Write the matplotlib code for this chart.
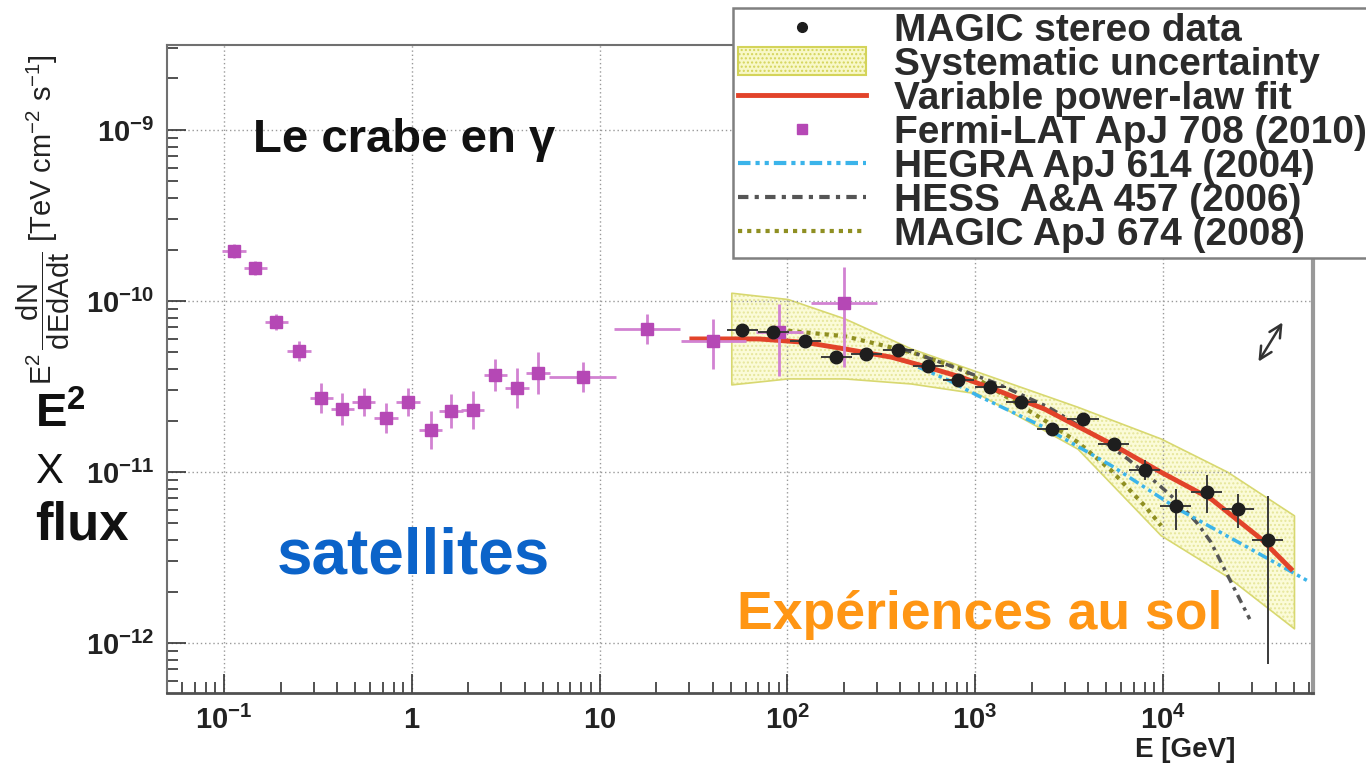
import numpy as np
import matplotlib
matplotlib.use("Agg")
import matplotlib.pyplot as plt
from matplotlib.patches import Patch
from matplotlib.lines import Line2D
from matplotlib.ticker import FixedLocator, FixedFormatter, NullFormatter

plt.rcParams["font.family"] = ["Liberation Sans", "DejaVu Sans"]
plt.rcParams["mathtext.fontset"] = "custom"
plt.rcParams["mathtext.rm"] = "Liberation Sans"
plt.rcParams["mathtext.bf"] = "Liberation Sans:bold"
plt.rcParams["mathtext.it"] = "Liberation Sans:italic"

# Fermi-LAT points (E in GeV, E^2 flux in TeV cm-2 s-1), errors in dex
fermi_e = [0.113, 0.147, 0.190, 0.251, 0.330, 0.426, 0.555, 0.730, 0.955, 1.26,
           1.62, 2.11, 2.79, 3.63, 4.70, 8.12, 17.9, 40.4, 90.6, 200]
fermi_f = [1.95e-10, 1.55e-10, 7.57e-11, 5.12e-11, 2.70e-11, 2.33e-11, 2.57e-11,
           2.07e-11, 2.57e-11, 1.75e-11, 2.27e-11, 2.31e-11, 3.69e-11, 3.11e-11,
           3.79e-11, 3.58e-11, 6.86e-11, 5.86e-11, 6.59e-11, 9.73e-11]
fermi_up = [0.041, 0.041, 0.047, 0.058, 0.088, 0.094, 0.082, 0.088, 0.082, 0.111,
            0.100, 0.111, 0.094, 0.117, 0.123, 0.088, 0.088, 0.127, 0.164, 0.210]
fermi_dn = [0.041, 0.041, 0.047, 0.058, 0.088, 0.094, 0.082, 0.088, 0.082, 0.111,
            0.100, 0.111, 0.094, 0.117, 0.123, 0.088, 0.088, 0.166, 0.256, 0.376]
fermi_bin = [0.062] * 15 + [0.180, 0.175, 0.173, 0.124, 0.175]

# MAGIC stereo points
magic_e = [57.6, 84.3, 124.6, 182, 263, 389, 562, 812, 1202, 1758, 2570, 3750,
           5480, 8020, 11700, 17100, 25100, 36200]
magic_f = [6.80e-11, 6.56e-11, 5.86e-11, 4.72e-11, 4.88e-11, 5.15e-11, 4.15e-11,
           3.46e-11, 3.14e-11, 2.57e-11, 1.78e-11, 2.04e-11, 1.46e-11, 1.03e-11,
           6.29e-12, 7.67e-12, 6.08e-12, 4.02e-12]
magic_up = [0.023] * 10 + [0.029, 0.029, 0.035, 0.058, 0.099, 0.099, 0.088, 0.257]
magic_dn = [0.023] * 10 + [0.029, 0.029, 0.035, 0.058, 0.135, 0.123, 0.111, 0.725]
magic_bin = 0.083

# systematic uncertainty band
band_e = [50.6, 101, 203, 458, 1037, 3530, 9790, 22180, 50200]
band_hi = [1.11e-10, 1.02e-10, 7.85e-11, 5.24e-11, 3.83e-11, 2.39e-11, 1.56e-11,
           9.96e-12, 5.54e-12]
band_lo = [3.23e-11, 3.50e-11, 3.50e-11, 3.27e-11, 2.86e-11, 1.36e-11, 4.24e-12,
           2.43e-12, 1.21e-12]

# variable power-law fit
fit_e = [31.0, 70.1, 124, 203, 359, 562, 846, 1324, 2348, 5310, 9790, 18070,
         33340, 48100]
fit_f = [6.00e-11, 6.00e-11, 5.73e-11, 5.24e-11, 4.69e-11, 4.09e-11, 3.58e-11,
         2.99e-11, 2.33e-11, 1.46e-11, 9.96e-12, 6.95e-12, 4.06e-12, 2.71e-12]

# previous measurements
hegra_e = [498, 718, 1037, 2348, 5310, 12020, 27220, 59000]
hegra_f = [4.11e-11, 3.45e-11, 2.79e-11, 1.82e-11, 1.09e-11, 6.08e-12, 3.71e-12,
           2.31e-12]
hess_e = [414, 718, 1324, 2445, 4510, 6510, 9400, 12020, 15360, 17990, 22180, 29000]
hess_f = [5.24e-11, 4.22e-11, 3.27e-11, 2.40e-11, 1.60e-11, 1.19e-11, 8.51e-12,
          6.68e-12, 4.97e-12, 3.90e-12, 2.47e-12, 1.38e-12]
magic08_e = [101, 203, 458, 846, 1560, 2348, 3530, 5310, 7990, 9790]
magic08_f = [6.70e-11, 6.22e-11, 5.01e-11, 4.00e-11, 2.64e-11, 2.00e-11, 1.49e-11,
             1.02e-11, 6.35e-12, 4.85e-12]

xticks = [0.1, 1, 10, 100, 1000, 10000]
xlabels = [r"$\mathbf{10^{-1}}$", r"$\mathbf{1}$", r"$\mathbf{10}$",
           r"$\mathbf{10^{2}}$", r"$\mathbf{10^{3}}$", r"$\mathbf{10^{4}}$"]
yticks = [1e-12, 1e-11, 1e-10, 1e-9]
ylabels = [r"$\mathbf{10^{-12}}$", r"$\mathbf{10^{-11}}$", r"$\mathbf{10^{-10}}$",
           r"$\mathbf{10^{-9}}$"]

c_fermi = "#b548b5"
c_fit = "#e2432a"
c_hegra = "#3bb4ea"
c_hess = "#555555"
c_m08 = "#8f8f22"

fig = plt.figure(figsize=(13.66, 7.63), dpi=100)
ax = fig.add_axes([167 / 1366, 70 / 763, 1146 / 1366, 648 / 763])
ax.set_xscale("log")
ax.set_yscale("log")
ax.set_xlim(0.0497, 63000)
ax.set_ylim(5.1e-13, 3.14e-9)

# band
ax.fill_between(band_e, band_lo, band_hi, facecolor="#fbfbd8", edgecolor="#e6e69a",
                hatch="....", lw=0, zorder=1)
ax.fill_between(band_e, band_lo, band_hi, facecolor="none", edgecolor="#d8d870",
                lw=1.2, zorder=1)

ax.plot(magic08_e, magic08_f, color=c_m08, lw=3, ls=(0, (1, 1.2)), zorder=2)
ax.plot(hess_e, hess_f, color=c_hess, lw=2.5, ls=(0, (2.5, 1.5, 1, 1.5)), zorder=2)
ax.plot(hegra_e, hegra_f, color=c_hegra, lw=2.5, ls=(0, (3, 1.2, 1, 1.2, 1, 1.2)),
        zorder=2)
ax.plot(fit_e, fit_f, color=c_fit, lw=3.5, zorder=3)

fe = np.array(fermi_e)
ff = np.array(fermi_f)
fb = np.array(fermi_bin)
ax.errorbar(fe, ff,
            xerr=[fe - fe / 10 ** fb, fe * 10 ** fb - fe],
            yerr=[ff - ff / 10 ** np.array(fermi_dn), ff * 10 ** np.array(fermi_up) - ff],
            fmt="s", ms=9, mfc=c_fermi, mec=c_fermi, ecolor="#d282d2",
            elinewidth=2, capsize=0, zorder=4)

me = np.array(magic_e)
mf = np.array(magic_f)
ax.errorbar(me, mf,
            xerr=[me - me / 10 ** magic_bin, me * 10 ** magic_bin - me],
            yerr=[mf - mf / 10 ** np.array(magic_dn), mf * 10 ** np.array(magic_up) - mf],
            fmt="o", ms=9, mfc="#1e1e1e", mec="#1e1e1e", ecolor="#3a3a3a",
            elinewidth=1.4, capsize=0, zorder=5)

ax.grid(True, which="major", ls=(0, (1, 2)), color="#999999", lw=1)
ax.xaxis.set_major_locator(FixedLocator(xticks))
ax.xaxis.set_major_formatter(FixedFormatter(xlabels))
ax.xaxis.set_minor_formatter(NullFormatter())
ax.yaxis.set_major_locator(FixedLocator(yticks))
ax.yaxis.set_major_formatter(FixedFormatter(ylabels))
ax.yaxis.set_minor_formatter(NullFormatter())
ax.tick_params(which="both", direction="in", top=False, right=False,
               color="#333333", width=1.2, labelsize=21, labelcolor="#222222")
ax.tick_params(which="major", length=14)
ax.tick_params(which="minor", length=8)
ax.tick_params(axis="x", pad=9)
ax.tick_params(axis="y", pad=9)
for s in ["left", "top"]:
    ax.spines[s].set_color("#707070")
    ax.spines[s].set_linewidth(1.5)
ax.spines["bottom"].set_color("#505050")
ax.spines["bottom"].set_linewidth(2)
ax.spines["right"].set_color("#999999")
ax.spines["right"].set_linewidth(3)

# legend
handles = [
    Line2D([], [], marker="o", ls="none", color="#1e1e1e", ms=7),
    Patch(facecolor="#f8f8c8", edgecolor="#d4d45a", hatch="....", lw=1.5),
    Line2D([], [], color=c_fit, lw=3.5),
    Line2D([], [], marker="s", ls="none", color=c_fermi, ms=7),
    Line2D([], [], color=c_hegra, lw=3, ls=(0, (3, 1.2, 1, 1.2, 1, 1.2))),
    Line2D([], [], color=c_hess, lw=3, ls=(0, (2.5, 1.5, 1, 1.5))),
    Line2D([], [], color=c_m08, lw=3, ls=(0, (1, 1.2))),
]
labels = ["MAGIC stereo data", "Systematic uncertainty", "Variable power-law fit",
          "Fermi-LAT ApJ 708 (2010)", "HEGRA ApJ 614 (2004)", "HESS  A&A 457 (2006)",
          "MAGIC ApJ 674 (2008)"]
leg = fig.legend(handles, labels, loc="upper left",
                 bbox_to_anchor=(733 / 1366, 1 - 8 / 763), borderaxespad=0,
                 prop={"weight": "bold", "size": 28}, labelcolor="#2b2b2b",
                 frameon=True, fancybox=False, edgecolor="#808080", framealpha=1,
                 borderpad=0.12, labelspacing=-0.05, handlelength=3.3,
                 handletextpad=0.72)
leg.get_frame().set_linewidth(1.8)

# annotations
fig.text(253 / 1366, 1 - 140 / 763, "Le crabe en γ", fontsize=34, fontweight="bold",
         color="#111111", ha="left", va="center")
fig.text(277 / 1366, 1 - 556 / 763, "satellites", fontsize=46, fontweight="bold",
         color="#0b63c9", ha="left", va="center")
fig.text(737 / 1366, 1 - 615 / 763, "Expériences au sol", fontsize=38.5,
         fontweight="bold", color="#ff9614", ha="left", va="center")
fig.text(35 / 1366, 1 - 415 / 763, r"$\mathbf{E^{2}}$", fontsize=34, color="#111111",
         ha="left", va="center")
fig.text(35 / 1366, 1 - 472 / 763, "X", fontsize=30, color="#111111",
         ha="left", va="center")
fig.text(35 / 1366, 1 - 525 / 763, "flux", fontsize=38, fontweight="bold",
         color="#111111", ha="left", va="center")
fig.text(43 / 1366, 1 - 220 / 763,
         r"$\mathrm{E^{2}\,\dfrac{dN}{dEdAdt}}$ [TeV cm$^{\mathrm{-2}}$ s$^{\mathrm{-1}}$]",
         fontsize=21, rotation=90, ha="center", va="center", color="#222222")
fig.text(1235 / 1366, 0, "E [GeV]", fontsize=20, fontweight="bold",
         color="#222222", ha="right", va="bottom")

ax.annotate("", xy=(1284, 763 - 320), xytext=(1257, 763 - 364),
            xycoords="figure pixels", textcoords="figure pixels",
            arrowprops=dict(arrowstyle="<->", color="#333333", lw=1.8,
                            mutation_scale=22))

fig.savefig("out.png", dpi=100)
